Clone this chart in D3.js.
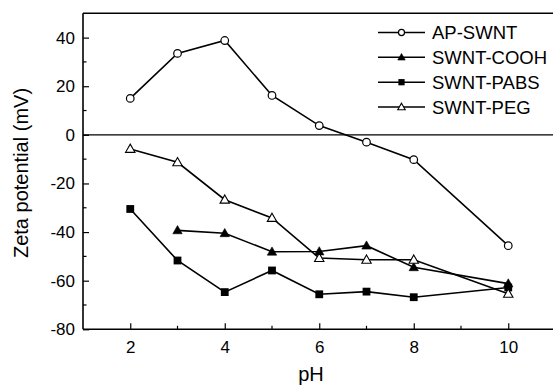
<!DOCTYPE html>
<html>
<head>
<meta charset="utf-8">
<script src="https://cdn.jsdelivr.net/npm/d3@7"></script>
<style>
  html, body { margin: 0; padding: 0; background: #fff; }
  svg { display: block; }
  text { font-family: "Liberation Sans", Arial, sans-serif; fill: #000; }
</style>
</head>
<body>
<svg id="chart" width="553" height="387"></svg>
<script>
// pH values and measured zeta potentials (mV)
const phValues = [2, 3, 4, 5, 6, 7, 8, 10];
const apSwnt   = [15, 33.5, 38.8, 16.2, 3.8, -3, -10.2, -45.6];
const swntCooh = [null, -39.3, -40.5, -48.1, -48, -45.6, -54.5, -61.2];
const swntPabs = [-30.5, -51.7, -64.7, -55.8, -65.6, -64.5, -66.8, -62.8];
const swntPeg  = [-5.8, -11.3, -26.7, -34.2, -50.7, -51.4, -51.4, -65.4];

const seriesNames = ["AP-SWNT", "SWNT-COOH", "SWNT-PABS", "SWNT-PEG"];
const seriesValues = [apSwnt, swntCooh, swntPabs, swntPeg];
const markerKinds = ["circleOpen", "triangleFilled", "squareFilled", "triangleOpen"];

const xMajor = [2, 4, 6, 8, 10];
const xMinor = [3, 5, 7, 9];
const yMajor = [-80, -60, -40, -20, 0, 20, 40];
const yMinor = [-70, -50, -30, -10, 10, 30];

const svg = d3.select("#chart");
const plotLeft = 83, plotRight = 555.5, plotTop = 13.3, plotBottom = 329.3;

const x = d3.scaleLinear().domain([1, 11]).range([plotLeft, plotRight]);
const y = d3.scaleLinear().domain([-80, 50]).range([plotBottom, plotTop]);

// plain hyphen-minus for negative tick labels
const fmt = d => String(d);

// frame: top border and zero reference line
svg.append("line").attr("x1", plotLeft).attr("x2", 553).attr("y1", plotTop).attr("y2", plotTop)
  .attr("stroke", "#000").attr("stroke-width", 1.5);
svg.append("line").attr("x1", plotLeft).attr("x2", 553).attr("y1", y(0)).attr("y2", y(0))
  .attr("stroke", "#000").attr("stroke-width", 1.2);

// axes with inward ticks
const xAxis = svg.append("g").attr("transform", `translate(0,${plotBottom})`)
  .call(d3.axisBottom(x).tickValues(xMajor).tickSize(-6).tickPadding(12).tickFormat(fmt));
xAxis.append("g").selectAll("line").data(xMinor).join("line")
  .attr("x1", d => x(d)).attr("x2", d => x(d)).attr("y1", 0).attr("y2", -3.5)
  .attr("stroke", "#000").attr("stroke-width", 1.2);

const yAxis = svg.append("g").attr("transform", `translate(${plotLeft},0)`)
  .call(d3.axisLeft(y).tickValues(yMajor).tickSize(-6).tickPadding(8).tickFormat(fmt));
yAxis.append("g").selectAll("line").data(yMinor).join("line")
  .attr("y1", d => y(d)).attr("y2", d => y(d)).attr("x1", 0).attr("x2", 3.5)
  .attr("stroke", "#000").attr("stroke-width", 1.2);

[xAxis, yAxis].forEach(g => {
  g.select(".domain").attr("stroke", "#000").attr("stroke-width", 1.6);
  g.selectAll(".tick line").attr("stroke", "#000").attr("stroke-width", 1.2);
  g.selectAll(".tick text").attr("font-size", 17).attr("font-family", "Liberation Sans, Arial, sans-serif").attr("fill", "#000");
});
xAxis.select(".domain").attr("d", `M${plotLeft},0H553`);
yAxis.select(".domain").attr("d", `M0,${plotTop}V${plotBottom}`);

// axis titles
svg.append("text").attr("x", 311).attr("y", 381).attr("text-anchor", "middle")
  .attr("font-size", 20).text("pH");
svg.append("text").attr("transform", "translate(28,173) rotate(-90)").attr("text-anchor", "middle")
  .attr("font-size", 20).text("Zeta potential (mV)");

// marker drawing
function drawMarker(g, kind, cx, cy, s) {
  if (kind === "circleOpen") {
    g.append("circle").attr("cx", cx).attr("cy", cy).attr("r", 3.8 * s)
      .attr("fill", "#fff").attr("stroke", "#000").attr("stroke-width", 1.2);
  } else if (kind === "squareFilled") {
    const h = 3.9 * s;
    g.append("rect").attr("x", cx - h).attr("y", cy - h).attr("width", 2 * h).attr("height", 2 * h)
      .attr("fill", "#000");
  } else {
    const w = 4.7 * s, hu = 4.8 * s, hd = 3.4 * s;
    const open = kind === "triangleOpen";
    g.append("path").attr("d", `M${cx},${cy - hu}L${cx + w},${cy + hd}L${cx - w},${cy + hd}Z`)
      .attr("fill", open ? "#fff" : "#000").attr("stroke", "#000").attr("stroke-width", open ? 1.1 : 0.6);
  }
}

const line = d3.line().defined(d => d[1] !== null).x(d => x(d[0])).y(d => y(d[1]));

seriesValues.forEach((vals, i) => {
  const pts = phValues.map((p, j) => [p, vals[j]]);
  const g = svg.append("g");
  g.append("path").attr("d", line(pts)).attr("fill", "none")
    .attr("stroke", "#000").attr("stroke-width", 1.6);
  pts.filter(d => d[1] !== null).forEach(d => drawMarker(g, markerKinds[i], x(d[0]), y(d[1]), 1));
});

// legend
const legend = svg.append("g");
const legendY = [32.5, 57.3, 82.2, 107];
seriesNames.forEach((name, i) => {
  const ly = legendY[i];
  legend.append("line").attr("x1", 378).attr("x2", 425).attr("y1", ly).attr("y2", ly)
    .attr("stroke", "#000").attr("stroke-width", 1.5);
  drawMarker(legend, markerKinds[i], 401.5, ly, 0.8);
  legend.append("text").attr("x", 432).attr("y", ly + 6.6).attr("font-size", 18.5).text(name);
});
</script>
</body>
</html>
